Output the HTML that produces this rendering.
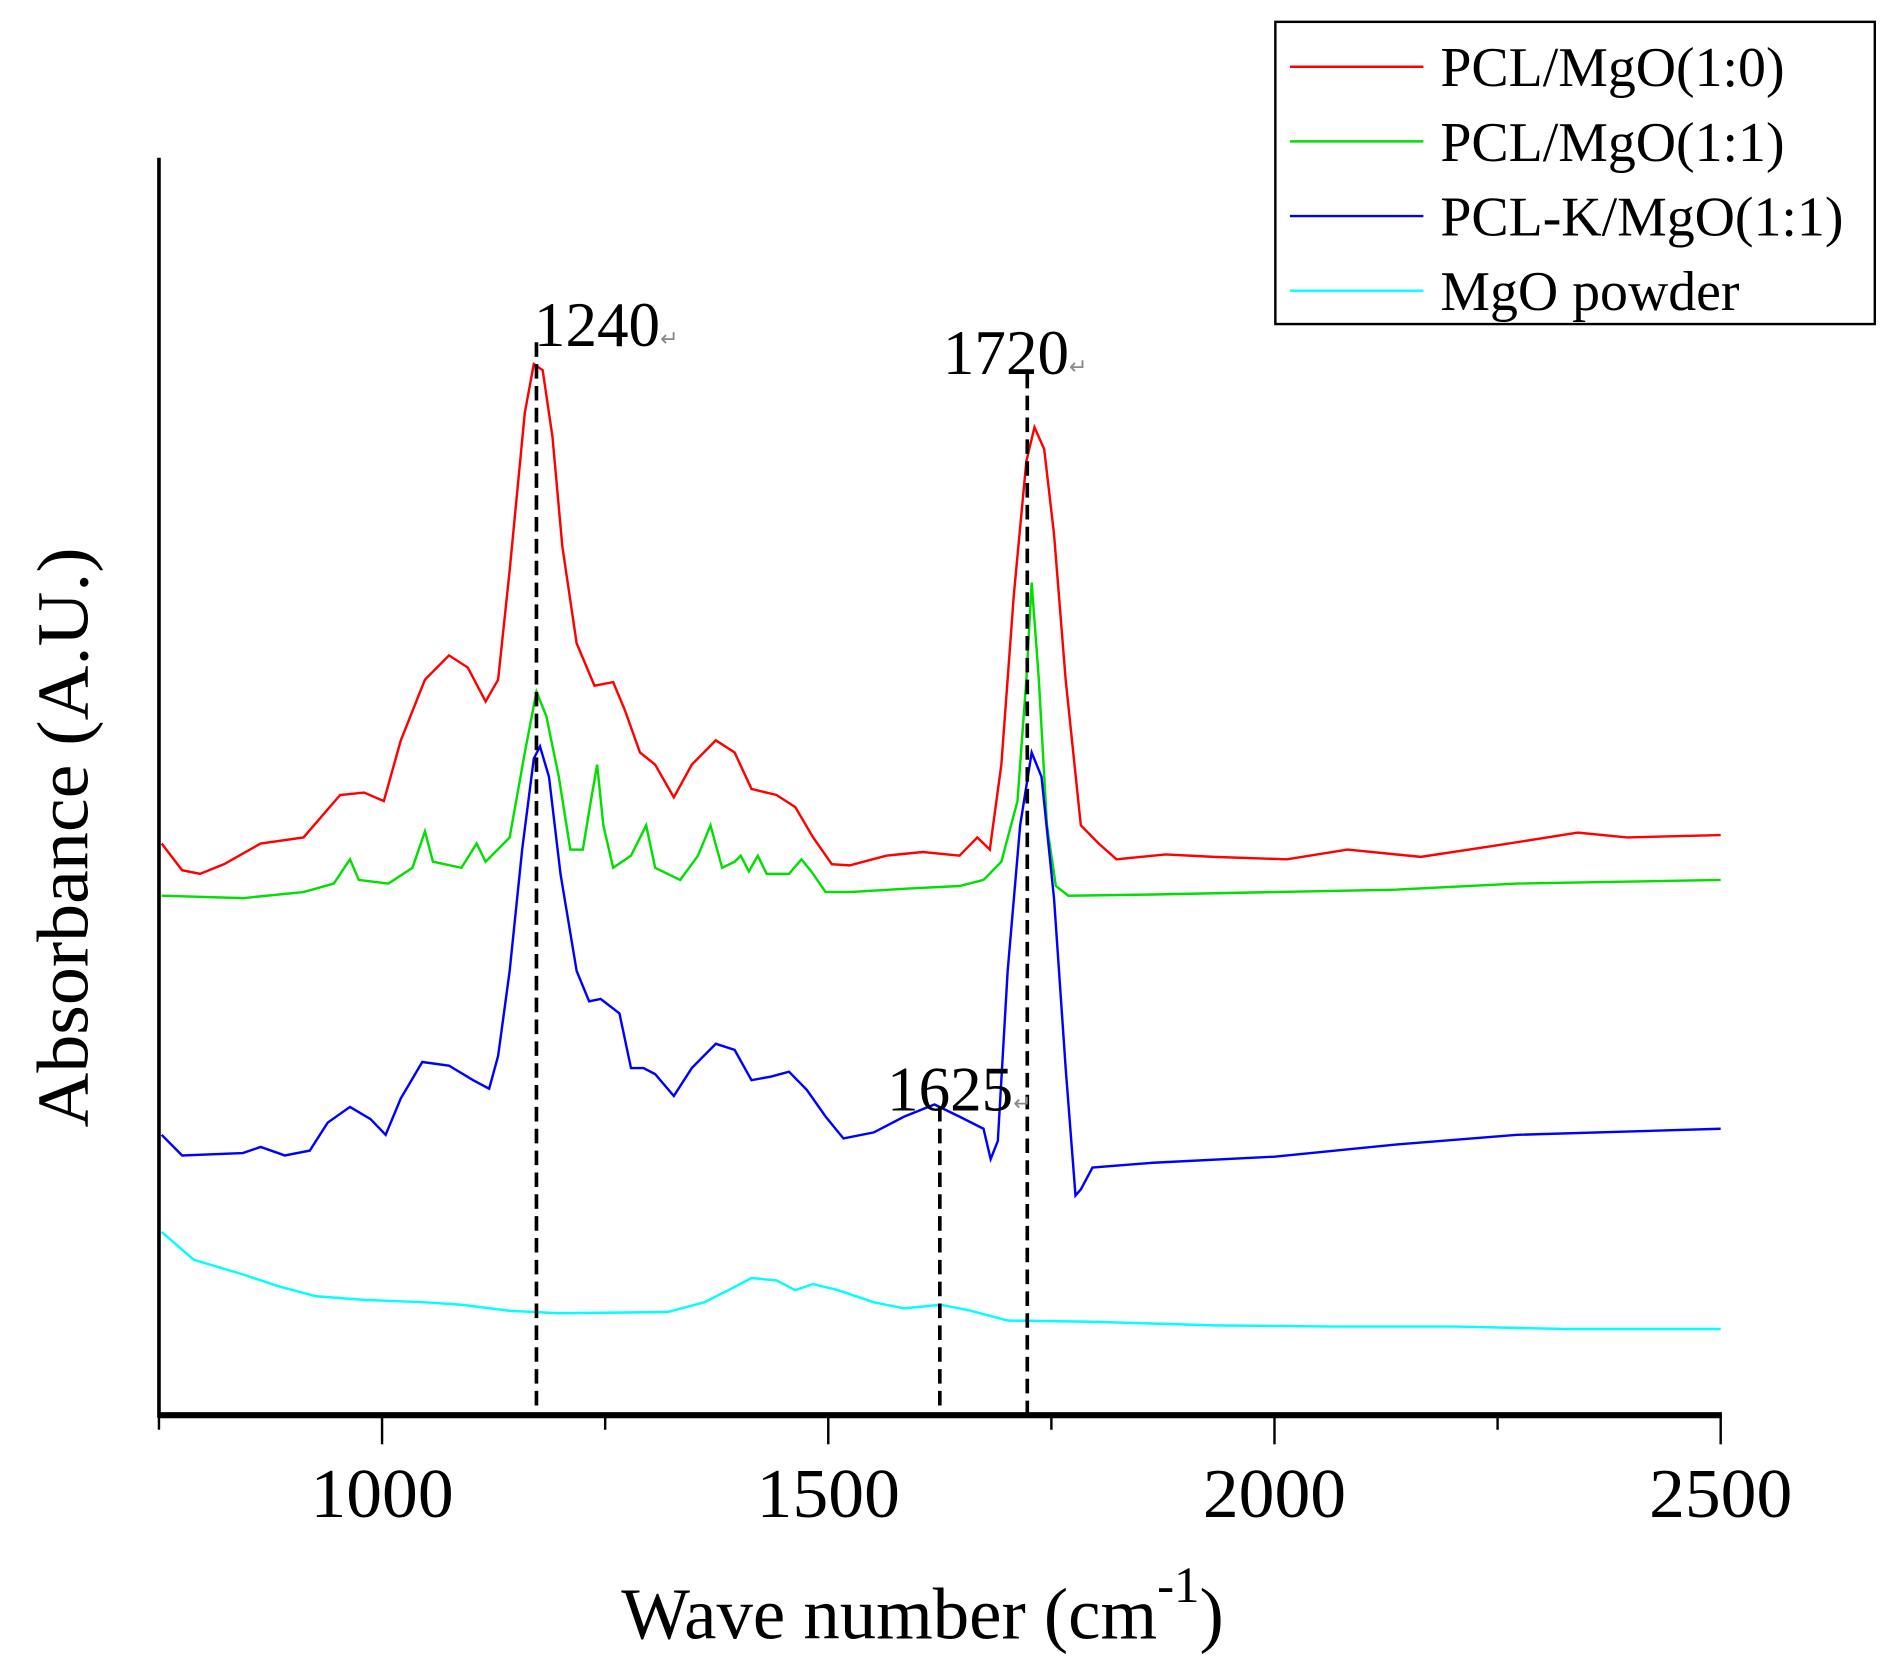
<!DOCTYPE html>
<html><head><meta charset="utf-8">
<style>
html,body{margin:0;padding:0;background:#fff;}
svg{display:block;}
text{font-family:"Liberation Serif",serif;fill:#000;}
</style></head>
<body>
<svg id="chart" width="1893" height="1664" viewBox="0 0 1560 1371" preserveAspectRatio="none" xmlns="http://www.w3.org/2000/svg">
<g id="plot"></g>
<g id="axes"></g>
<text transform="translate(72,690) rotate(-90)" text-anchor="middle" font-size="60" textLength="478" lengthAdjust="spacingAndGlyphs">Absorbance (A.U.)</text>
<text x="512" y="1350" font-size="60">Wave number (cm<tspan dy="-30" font-size="42">-1</tspan><tspan dy="30">)</tspan></text>
<g>
<rect x="1051" y="18" width="494" height="249" fill="#fff" stroke="#000" stroke-width="2"/>
</g>
<g id="legend-items"></g>
</svg>
<script>
const wnRed=[753,776,796,823,864,912,953,980,1002,1021,1048,1075,1096,1116,1130,1143,1160,1170,1180,1191,1202,1218,1238,1259,1272,1289,1306,1327,1347,1374,1395,1414,1442,1463,1483,1504,1524,1565,1606,1647,1667,1681,1694,1708,1722,1731,1742,1753,1766,1783,1803,1823,1878,1932,2014,2082,2164,2245,2340,2395,2500];
const absRed=[4.71,4.49,4.46,4.54,4.71,4.76,5.11,5.13,5.06,5.56,6.06,6.26,6.16,5.88,6.06,6.96,8.26,8.66,8.61,8.06,7.16,6.36,6.01,6.04,5.81,5.46,5.36,5.09,5.36,5.56,5.46,5.16,5.11,5.01,4.76,4.54,4.53,4.61,4.64,4.61,4.76,4.66,5.36,6.76,7.86,8.14,7.96,7.26,6.06,4.86,4.71,4.58,4.62,4.60,4.58,4.66,4.60,4.69,4.80,4.76,4.78];
const wnGreen=[753,844,912,946,964,974,1007,1034,1048,1057,1089,1106,1116,1143,1160,1173,1184,1198,1211,1225,1234,1241,1248,1259,1279,1296,1306,1334,1354,1368,1381,1395,1402,1411,1421,1431,1456,1470,1481,1497,1524,1592,1647,1674,1694,1712,1722,1728,1736,1745,1755,1769,1864,2000,2136,2272,2500];
const absGreen=[4.28,4.26,4.31,4.38,4.58,4.41,4.38,4.51,4.81,4.56,4.51,4.71,4.56,4.76,5.46,5.96,5.76,5.26,4.66,4.66,5.06,5.36,4.86,4.51,4.61,4.86,4.51,4.41,4.61,4.86,4.51,4.56,4.61,4.48,4.61,4.46,4.46,4.58,4.48,4.31,4.31,4.34,4.36,4.41,4.56,5.06,6.06,6.86,6.06,4.86,4.36,4.28,4.29,4.31,4.33,4.38,4.41];
const wnBlue=[753,776,844,864,891,919,939,964,987,1004,1021,1045,1075,1102,1120,1130,1143,1157,1170,1177,1187,1200,1218,1232,1245,1266,1279,1293,1306,1327,1347,1374,1395,1414,1436,1456,1476,1497,1517,1551,1585,1619,1647,1674,1682,1690,1701,1715,1728,1739,1753,1766,1777,1783,1796,1864,2000,2136,2272,2500];
const absBlue=[2.31,2.14,2.16,2.21,2.14,2.18,2.41,2.54,2.44,2.31,2.61,2.91,2.88,2.76,2.69,2.96,3.66,4.66,5.41,5.51,5.26,4.46,3.66,3.41,3.43,3.31,2.86,2.86,2.81,2.63,2.86,3.06,3.01,2.76,2.79,2.83,2.68,2.46,2.28,2.33,2.46,2.56,2.46,2.36,2.11,2.26,3.66,4.86,5.46,5.26,4.26,2.86,1.81,1.86,2.04,2.08,2.13,2.23,2.31,2.36];
const wnCyan=[753,789,844,885,926,980,1048,1089,1143,1198,1320,1361,1388,1414,1442,1463,1483,1511,1551,1585,1626,1660,1701,1796,1932,2068,2204,2327,2500];
const absCyan=[1.51,1.28,1.16,1.06,0.98,0.95,0.93,0.91,0.86,0.84,0.85,0.93,1.03,1.13,1.11,1.03,1.08,1.03,0.93,0.88,0.91,0.86,0.78,0.77,0.74,0.73,0.73,0.71,0.71];
const seriesNames=["PCL/MgO(1:0)","PCL/MgO(1:1)","PCL-K/MgO(1:1)","MgO powder"];
const xTicks=[1000,1500,2000,2500];
const xMinorTicks=[750,1250,1750,2250];
const peakWn=[1240,1720,1625];
const peakPlotWn=[1173,1723,1625];
const peakLineTop=[8.84,8.58,2.54];

const NS="http://www.w3.org/2000/svg";
const X0=131,X1=1418,Y0=1166,YT=130;
function xs(w){return X0+(w-750)/(2500-750)*(X1-X0);}
function ys(v){return Y0-v*100;}
function mk(tag,attrs,parent){const e=document.createElementNS(NS,tag);for(const k in attrs)e.setAttribute(k,attrs[k]);parent.appendChild(e);return e;}
const plot=document.getElementById('plot'),axes=document.getElementById('axes'),leg=document.getElementById('legend-items');
const colors=["#ff0000","#00e000","#0000ff","#00ffff"];
const data=[[wnRed,absRed],[wnGreen,absGreen],[wnBlue,absBlue],[wnCyan,absCyan]];
const keys=["red","green","blue","cyan"];
data.forEach((d,i)=>{
  const pts=d[0].map((w,j)=>xs(w).toFixed(1)+","+ys(d[1][j]).toFixed(1)).join(" ");
  const p=mk('polyline',{points:pts,fill:"none",stroke:colors[i],"stroke-width":2},plot);
  
  
  const ly=55+i*61.5;
  const l=mk('line',{x1:1063,x2:1173,y1:ly,y2:ly,stroke:colors[i],"stroke-width":2},leg);
  
  
  const t=mk('text',{x:1187,y:ly+16,"font-size":46},leg);
  t.textContent=seriesNames[i];
  
  
});
const labelPos=[[440,285],[777,308],[731,915]];
peakWn.forEach((w,i)=>{
  const x=xs(peakPlotWn[i]);
  const ln=mk('line',{x1:x,x2:x,y1:ys(peakLineTop[i]),y2:Y0,stroke:"#000","stroke-width":3,"stroke-dasharray":"12,6"},plot);
  
  
  const t=mk('text',{x:labelPos[i][0],y:labelPos[i][1],"font-size":52},plot);
  t.textContent=String(w);
  const ts=mk('tspan',{"font-size":18,fill:"#888"},t);
  ts.textContent="↵";
  
  
});
const ya=mk('line',{x1:X0,x2:X0,y1:YT,y2:Y0+2,stroke:"#000","stroke-width":3},axes);


const xa=mk('line',{x1:X0-1,x2:X1+1,y1:Y0,y2:Y0,stroke:"#000","stroke-width":5},axes);


xTicks.forEach(v=>{
  const x=xs(v);
  const tk=mk('line',{x1:x,x2:x,y1:Y0,y2:Y0+24,stroke:"#000","stroke-width":2},axes);
  
  
  const t=mk('text',{x:x,y:1250,"font-size":58,"text-anchor":"middle",textLength:118,lengthAdjust:"spacingAndGlyphs"},axes);
  t.textContent=String(v);
  
  
});
xMinorTicks.forEach(v=>{
  const x=xs(v);
  const tk=mk('line',{x1:x,x2:x,y1:Y0,y2:Y0+12,stroke:"#000","stroke-width":2},axes);
  
  
});
</script>
</body></html>
